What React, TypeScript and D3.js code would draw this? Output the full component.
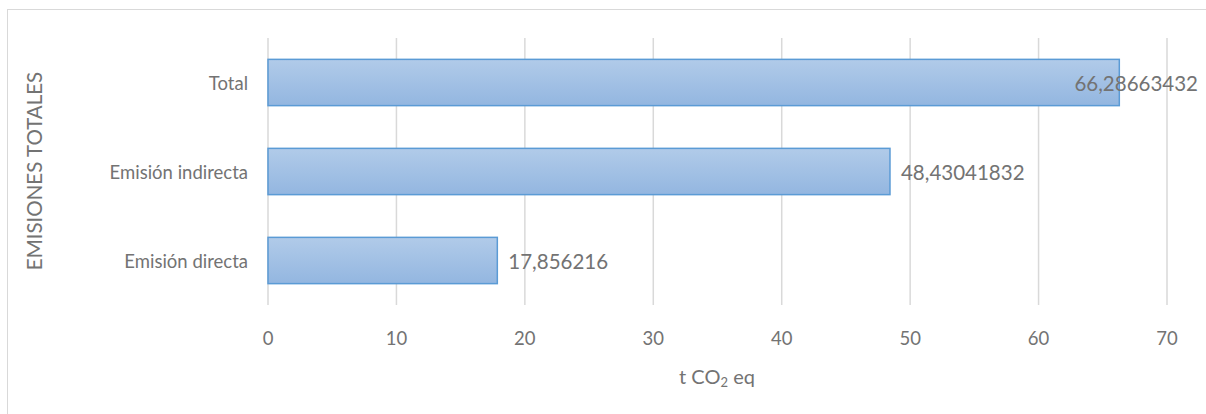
import React from "react";
import * as d3 from "d3";

const categories = ["Total", "Emisión indirecta", "Emisión directa"];
const values = [66.28663432, 48.43041832, 17.856216];
const valueLabels = ["66,28663432", "48,43041832", "17,856216"];
const xTicks = [0, 10, 20, 30, 40, 50, 60, 70];

const W = 1206;
const H = 414;
const font = "Lato, 'Open Sans', sans-serif";
const textColor = "#737373";

export default function App() {
  const x = d3.scaleLinear().domain([0, 70]).range([268, 1167]);
  const y = d3.scaleBand().domain(categories).range([38, 305]).paddingInner(0.48).paddingOuter(0.24);
  return (
    <svg width={W} height={H} style={{ position: "absolute", left: 0, top: 0 }}>
      <defs>
        <linearGradient id="barGrad" x1="0" y1="0" x2="0" y2="1">
          <stop offset="0%" stopColor="#b1cbe9" />
          <stop offset="100%" stopColor="#93b6e0" />
        </linearGradient>
      </defs>
      <rect x={0} y={0} width={W} height={H} fill="#fff" />
      <rect x={7.5} y={9.5} width={1240} height={440} fill="#fff" stroke="#d9d9d9" />
      {xTicks.map((t) => (
        <line key={t} x1={x(t)} x2={x(t)} y1={38} y2={305} stroke="#d9d9d9" strokeWidth={1.5} />
      ))}
      {categories.map((c, i) => (
        <g key={c}>
          <rect
            x={x(0)}
            y={y(c)!}
            width={x(values[i]) - x(0)}
            height={y.bandwidth()}
            fill="url(#barGrad)"
            stroke="#5b9bd5"
            strokeWidth={1.5}
          />
          <text
            x={x(0) - 20}
            y={y(c)! + y.bandwidth() / 2}
            textAnchor="end"
            dominantBaseline="central"
            fontFamily={font}
            fontSize={18.5}
            fill={textColor}
          >
            {c}
          </text>
          <text
            x={i === 0 ? 1198 : x(values[i]) + 11}
            y={y(c)! + y.bandwidth() / 2}
            textAnchor={i === 0 ? "end" : "start"}
            dominantBaseline="central"
            fontFamily={font}
            fontSize={20.5}
            fill={textColor}
          >
            {valueLabels[i]}
          </text>
        </g>
      ))}
      {xTicks.map((t) => (
        <text
          key={"l" + t}
          x={x(t)}
          y={338}
          textAnchor="middle"
          dominantBaseline="central"
          fontFamily={font}
          fontSize={18.5}
          fill={textColor}
        >
          {t}
        </text>
      ))}
      <text x={717} y={376} textAnchor="middle" dominantBaseline="central" fontFamily={font} fontSize={20} fill={textColor}>
        t CO<tspan fontSize={13} dy={6}>2</tspan>
        <tspan dy={-6}> eq</tspan>
      </text>
      <text
        transform={`translate(34,171) rotate(-90)`}
        textAnchor="middle"
        dominantBaseline="central"
        fontFamily={font}
        fontSize={20.5}
        fill={textColor}
      >
        EMISIONES TOTALES
      </text>
    </svg>
  );
}
